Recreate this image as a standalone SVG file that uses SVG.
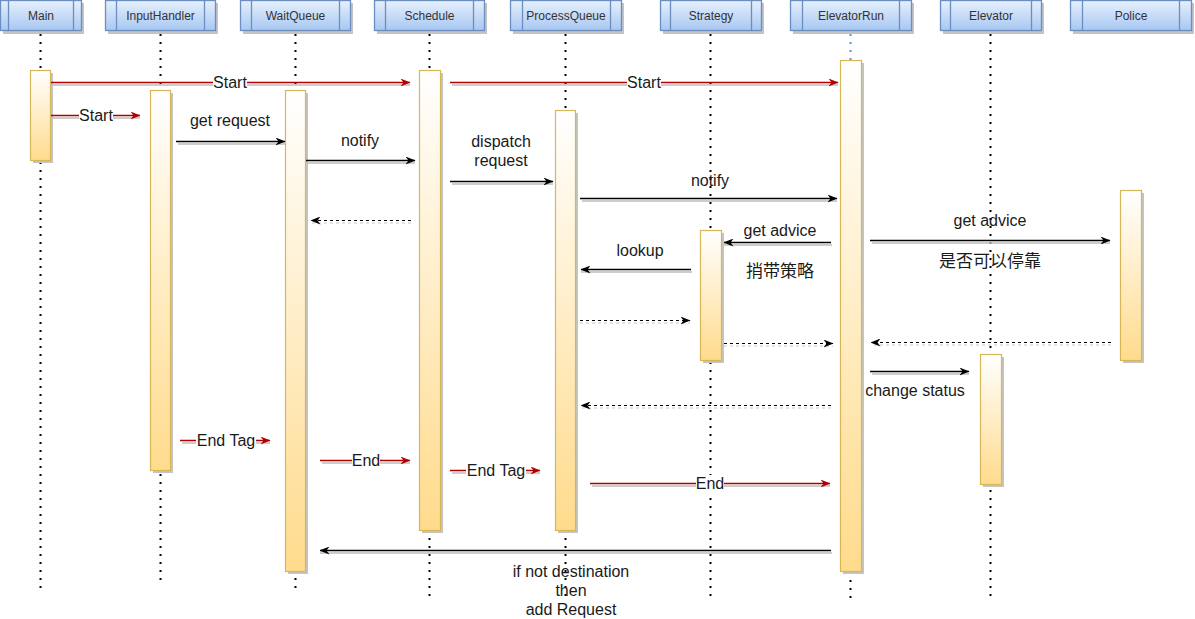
<svg xmlns="http://www.w3.org/2000/svg" width="1195" height="619" viewBox="0 0 1195 619">
<style>
.hdr{fill:url(#gh);stroke:#6c8ebf;stroke-width:1.3}
.hl{stroke:#6c8ebf;stroke-width:1.3;fill:none}
.sh{fill:#c4c4c4}
.ht{font-family:"Liberation Sans",Arial,sans-serif;font-size:12px;fill:#333;text-anchor:middle}
.life{stroke:#000;stroke-width:2;stroke-dasharray:2 6;fill:none}
.act{fill:url(#ga);stroke:#d6b656;stroke-width:1.2}
.lbl{font-family:"Liberation Sans","Noto Sans CJK SC",Arial,sans-serif;font-size:16px;fill:#1a1a1a;text-anchor:middle}
.cjk{font-size:17px}
.m{stroke:#000;stroke-width:1.3;fill:none;marker-end:url(#ab)}
.r{stroke:#b20000;stroke-width:1.3;fill:none;marker-end:url(#ar)}
.d{stroke:#000;stroke-width:1.1;stroke-dasharray:3 3;fill:none;marker-end:url(#ab)}
.s{stroke:#bdbdbd;stroke-width:1.3;fill:none}
.sd{stroke:#c8c8c8;stroke-width:1.1;stroke-dasharray:3 3;fill:none}
.bg{fill:#fff}
</style>
<defs>
<linearGradient id="gh" x1="0" y1="0" x2="0" y2="1"><stop offset="0" stop-color="#e6f0fd"/><stop offset="1" stop-color="#a8c7f2"/></linearGradient>
<linearGradient id="ga" x1="0" y1="0" x2="0" y2="1"><stop offset="0" stop-color="#ffffff"/><stop offset="1" stop-color="#ffdb8c"/></linearGradient>
<marker id="ab" viewBox="0 0 10 8" refX="9.5" refY="4" markerWidth="10" markerHeight="8" markerUnits="userSpaceOnUse" orient="auto"><path d="M0,0 L10,4 L0,8 L3,4 z" fill="#000"/></marker>
<marker id="ar" viewBox="0 0 10 8" refX="9.5" refY="4" markerWidth="10" markerHeight="8" markerUnits="userSpaceOnUse" orient="auto"><path d="M0,0 L10,4 L0,8 L3,4 z" fill="#b20000"/></marker>
</defs>
<rect width="1195" height="619" fill="#fff"/>

<g id="Main">
<rect class="sh" x="3" y="3" width="81" height="31"/>
<rect class="hdr" x="0.5" y="0.5" width="81" height="30"/>
<path class="hl" d="M8.5,0.5V30.5M73.5,0.5V30.5"/>
<text class="ht" x="41" y="20">Main</text>
<line class="life" x1="40.5" y1="34" x2="40.5" y2="590"/>
<rect class="sh" x="33" y="73" width="20" height="90"/>
<rect class="act" x="30.5" y="70.5" width="20" height="90"/>
</g>

<g id="InputHandler">
<rect class="sh" x="108" y="3" width="110" height="31"/>
<rect class="hdr" x="105.5" y="0.5" width="110" height="30"/>
<path class="hl" d="M116.5,0.5V30.5M204.5,0.5V30.5"/>
<text class="ht" x="160.5" y="20">InputHandler</text>
<line class="life" x1="160.5" y1="34" x2="160.5" y2="581"/>
<rect class="sh" x="153" y="93" width="20" height="380"/>
<rect class="act" x="150.5" y="90.5" width="20" height="380"/>
</g>

<g id="WaitQueue">
<rect class="sh" x="243" y="3" width="110" height="31"/>
<rect class="hdr" x="240.5" y="0.5" width="110" height="30"/>
<path class="hl" d="M251.5,0.5V30.5M339.5,0.5V30.5"/>
<text class="ht" x="295.5" y="20">WaitQueue</text>
<line class="life" x1="295.5" y1="34" x2="295.5" y2="592"/>
<rect class="sh" x="288" y="93" width="20" height="481"/>
<rect class="act" x="285.5" y="90.5" width="20" height="481"/>
</g>

<g id="Schedule">
<rect class="sh" x="377" y="3" width="110" height="31"/>
<rect class="hdr" x="374.5" y="0.5" width="110" height="30"/>
<path class="hl" d="M385.5,0.5V30.5M473.5,0.5V30.5"/>
<text class="ht" x="429.5" y="20">Schedule</text>
<line class="life" x1="429.5" y1="34" x2="429.5" y2="601"/>
<rect class="sh" x="422" y="73" width="21" height="460"/>
<rect class="act" x="419.5" y="70.5" width="21" height="460"/>
</g>

<g id="ProcessQueue">
<rect class="sh" x="513" y="3" width="111" height="31"/>
<rect class="hdr" x="510.5" y="0.5" width="111" height="30"/>
<path class="hl" d="M522.5,0.5V30.5M610.5,0.5V30.5"/>
<text class="ht" x="566" y="20">ProcessQueue</text>
<line class="life" x1="565.5" y1="34" x2="565.5" y2="601"/>
<rect class="sh" x="558" y="113" width="20" height="420"/>
<rect class="act" x="555.5" y="110.5" width="20" height="420"/>
</g>

<g id="Strategy">
<rect class="sh" x="663" y="3" width="101" height="31"/>
<rect class="hdr" x="660.5" y="0.5" width="101" height="30"/>
<path class="hl" d="M670.5,0.5V30.5M751.5,0.5V30.5"/>
<text class="ht" x="711" y="20">Strategy</text>
<line class="life" x1="710.5" y1="34" x2="710.5" y2="601"/>
<rect class="sh" x="703" y="233" width="21" height="130"/>
<rect class="act" x="700.5" y="230.5" width="21" height="130"/>
</g>

<g id="ElevatorRun">
<rect class="sh" x="793" y="3" width="121" height="31"/>
<rect class="hdr" x="790.5" y="0.5" width="121" height="30"/>
<path class="hl" d="M802.5,0.5V30.5M899.5,0.5V30.5"/>
<text class="ht" x="851" y="20">ElevatorRun</text>
<line x1="850.5" y1="34" x2="850.5" y2="60" stroke="#6c8ebf" stroke-width="2" stroke-dasharray="2 6"/>
<line class="life" x1="850.5" y1="572" x2="850.5" y2="601"/>
<rect class="sh" x="843" y="63" width="21" height="511"/>
<rect class="act" x="840.5" y="60.5" width="21" height="511"/>
</g>

<g id="Elevator">
<rect class="sh" x="943" y="3" width="101" height="31"/>
<rect class="hdr" x="940.5" y="0.5" width="101" height="30"/>
<path class="hl" d="M950.5,0.5V30.5M1031.5,0.5V30.5"/>
<text class="ht" x="991" y="20">Elevator</text>
<line class="life" x1="990.5" y1="34" x2="990.5" y2="601"/>
<rect class="sh" x="983" y="357" width="21" height="130"/>
<rect class="act" x="980.5" y="354.5" width="21" height="130"/>
</g>

<g id="Police">
<rect class="sh" x="1073" y="3" width="121" height="31"/>
<rect class="hdr" x="1070.5" y="0.5" width="121" height="30"/>
<path class="hl" d="M1082.5,0.5V30.5M1179.5,0.5V30.5"/>
<text class="ht" x="1131" y="20">Police</text>
<rect class="sh" x="1123" y="193" width="21" height="170"/>
<rect class="act" x="1120.5" y="190.5" width="21" height="170"/>
</g>

<g id="connectors">
<path class="s" d="M52,85H410M452,85H838M52,118H140M178,144H285M307,163H415M452,184H553M582,201H837M832,245H724M872,243H1110M692,272H581M872,374H969M182,443H270M322,463H410M452,473H540M592,486H830M832,553H320"/>
<path class="sd" d="M411,223H311M580,323H690M724,346H833M1111,345H871M831,408H581"/>

<line class="r" x1="51" y1="82.5" x2="410" y2="82.5"/>
<rect class="bg" x="213" y="74" width="34" height="17"/>
<text class="lbl" x="230" y="88">Start</text>

<line class="r" x1="450" y1="82.5" x2="838" y2="82.5"/>
<rect class="bg" x="627" y="74" width="34" height="17"/>
<text class="lbl" x="644" y="88">Start</text>

<line class="r" x1="51" y1="115.5" x2="140" y2="115.5"/>
<rect class="bg" x="79" y="107" width="34" height="17"/>
<text class="lbl" x="96" y="121">Start</text>

<line class="m" x1="176" y1="141.5" x2="285" y2="141.5"/>
<text class="lbl" x="230" y="126">get request</text>

<line class="m" x1="306" y1="160.5" x2="415" y2="160.5"/>
<text class="lbl" x="360" y="146">notify</text>

<line class="m" x1="450" y1="181.5" x2="553" y2="181.5"/>
<text class="lbl" x="501" y="147">dispatch</text>
<text class="lbl" x="501" y="166">request</text>

<line class="m" x1="580" y1="198.5" x2="837" y2="198.5"/>
<text class="lbl" x="710" y="186">notify</text>

<line class="d" x1="411" y1="220.5" x2="311" y2="220.5"/>

<line class="m" x1="831" y1="242.5" x2="724" y2="242.5"/>
<text class="lbl" x="780" y="236">get advice</text>

<line class="m" x1="870" y1="240.5" x2="1110" y2="240.5"/>
<text class="lbl" x="990" y="226">get advice</text>
<text class="lbl cjk" x="990" y="267">是否可以停靠</text>

<line class="m" x1="691" y1="269.5" x2="581" y2="269.5"/>
<text class="lbl" x="640" y="256">lookup</text>
<text class="lbl cjk" x="780" y="277">捎带策略</text>

<line class="d" x1="580" y1="320.5" x2="690" y2="320.5"/>
<line class="d" x1="724" y1="343.5" x2="833" y2="343.5"/>
<line class="d" x1="1111" y1="342.5" x2="871" y2="342.5"/>

<line class="m" x1="870" y1="371.5" x2="969" y2="371.5"/>
<text class="lbl" x="915" y="396">change status</text>

<line class="d" x1="831" y1="405.5" x2="581" y2="405.5"/>

<line class="r" x1="180" y1="440.5" x2="270" y2="440.5"/>
<rect class="bg" x="196" y="432" width="60" height="17"/>
<text class="lbl" x="226" y="446">End Tag</text>

<line class="r" x1="320" y1="460.5" x2="410" y2="460.5"/>
<rect class="bg" x="352" y="452" width="28" height="17"/>
<text class="lbl" x="366" y="466">End</text>

<line class="r" x1="450" y1="470.5" x2="540" y2="470.5"/>
<rect class="bg" x="466" y="462" width="60" height="17"/>
<text class="lbl" x="496" y="476">End Tag</text>

<line class="r" x1="590" y1="483.5" x2="830" y2="483.5"/>
<rect class="bg" x="696" y="475" width="28" height="17"/>
<text class="lbl" x="710" y="489">End</text>

<line class="m" x1="831" y1="550.5" x2="320" y2="550.5"/>
<text class="lbl" x="571" y="577">if not destination</text>
<text class="lbl" x="571" y="596">then</text>
<text class="lbl" x="571" y="615">add Request</text>
</g>
</svg>
